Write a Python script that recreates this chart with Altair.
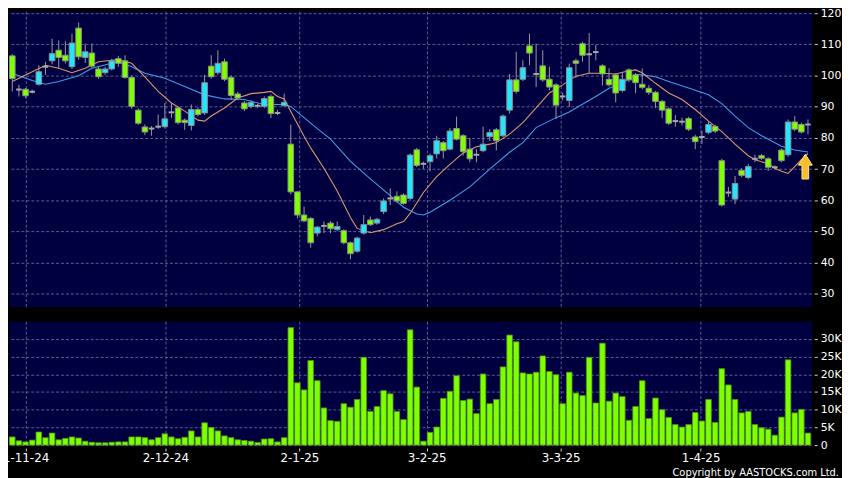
import altair as alt
import pandas as pd

# ---------------- data ----------------
opens = [106.3, 95.5, 95.6, 94.8, 97.2, 102.8, 104.7, 108.1, 106.5, 102.8,
         115.2, 105.8, 107.2, 102.1, 100.9, 102.1, 105.4, 104.7, 99.4, 88.9,
         83.5, 83.0, 83.6, 83.6, 88.2, 89.6, 85.7, 84.0, 89.1, 88.0,
         103.0, 100.9, 104.4, 99.4, 94.1, 91.2, 90.1, 90.3, 90.1, 93.3,
         88.0, 90.3, 78.0, 62.7, 55.3, 54.2, 49.5, 51.8, 52.7, 50.6,
         50.3, 46.4, 43.7, 49.5, 53.7, 52.7, 56.4, 60.6, 61.3, 61.7,
         60.6, 76.2, 71.7, 72.4, 74.9, 78.5, 76.4, 83.0, 80.7, 76.4,
         74.6, 75.9, 80.4, 82.6, 80.7, 88.9, 98.6, 98.8, 109.5, 100.5,
         103.1, 98.8, 97.0, 93.3, 92.0, 104.7, 110.2, 106.8, 107.5, 103.1,
         98.8, 100.2, 95.2, 101.8, 100.2, 97.2, 95.9, 94.6, 91.7, 89.3,
         85.4, 85.2, 86.2, 80.3, 80.3, 81.8, 83.7, 72.7, 62.5, 60.4,
         69.6, 67.3, 73.3, 74.3, 73.3, 70.6, 76.1, 74.6, 85.1, 84.3,
         84.3]
closes = [99.0, 95.5, 93.5, 94.8, 101.2, 102.8, 107.0, 105.8, 104.7, 110.4,
          106.0, 107.6, 103.0, 99.6, 102.1, 104.7, 103.9, 99.4, 90.1, 84.7,
          81.9, 83.0, 83.6, 86.1, 88.2, 84.9, 84.9, 89.1, 87.5, 97.7,
          99.6, 103.9, 98.8, 93.6, 92.8, 89.3, 91.4, 90.3, 92.6, 87.8,
          88.0, 91.4, 62.7, 55.3, 53.4, 46.4, 51.4, 51.8, 50.9, 51.6,
          46.4, 42.9, 47.9, 52.2, 52.2, 53.9, 59.8, 60.6, 59.8, 59.0,
          74.5, 71.2, 71.7, 74.3, 79.1, 75.9, 82.2, 79.6, 75.6, 73.3,
          74.6, 78.0, 81.7, 79.1, 87.0, 98.6, 94.9, 102.5, 107.2, 100.5,
          98.6, 96.3, 90.5, 93.3, 102.5, 103.9, 106.5, 106.8, 107.5, 100.5,
          97.0, 94.4, 98.8, 98.6, 97.7, 96.2, 94.6, 91.7, 88.9, 84.7,
          85.4, 85.2, 82.8, 78.8, 80.3, 84.3, 82.2, 58.5, 62.5, 65.4,
          68.0, 70.8, 73.3, 73.5, 70.6, 70.6, 72.7, 85.1, 82.8, 81.9,
          84.3]
highs = [106.8, 97.0, 96.0, 95.5, 103.3, 104.4, 111.8, 111.2, 111.0, 113.4,
         117.0, 110.2, 110.2, 102.8, 102.8, 105.4, 106.3, 106.5, 100.0, 89.5,
         84.3, 83.8, 87.5, 91.2, 91.2, 90.2, 86.2, 90.7, 89.8, 100.2,
         106.5, 108.1, 105.4, 100.0, 94.8, 91.8, 92.0, 91.0, 93.3, 93.9,
         89.0, 94.2, 84.3, 63.0, 58.0, 54.6, 51.8, 53.2, 53.4, 53.2,
         50.7, 46.8, 48.3, 55.3, 54.8, 54.4, 60.6, 63.8, 62.9, 62.2,
         75.0, 76.8, 72.4, 75.0, 80.7, 79.0, 83.2, 86.8, 81.2, 80.0,
         76.4, 83.6, 82.8, 83.2, 87.5, 100.5, 107.6, 104.9, 113.4, 110.2,
         108.1, 102.8, 97.5, 94.5, 103.8, 105.4, 110.8, 113.6, 109.8, 103.6,
         102.3, 100.8, 101.2, 102.3, 100.8, 102.3, 96.9, 95.1, 92.2, 89.8,
         87.3, 86.5, 86.8, 81.0, 82.4, 85.4, 84.2, 73.3, 64.3, 67.8,
         70.3, 71.7, 74.6, 74.8, 73.8, 71.2, 76.6, 85.9, 87.0, 84.9,
         85.9]
lows = [94.9, 93.3, 92.8, 94.2, 96.8, 100.2, 103.6, 102.3, 103.9, 102.0,
        105.0, 104.0, 102.5, 99.0, 100.2, 101.6, 102.8, 99.0, 89.3, 84.2,
        80.9, 80.7, 82.9, 83.0, 86.4, 84.3, 82.6, 82.4, 86.9, 87.4,
        99.0, 100.2, 98.2, 92.2, 92.2, 88.6, 89.5, 89.6, 89.6, 86.4,
        87.3, 90.1, 61.9, 54.2, 53.0, 44.8, 48.5, 49.5, 49.5, 50.2,
        45.9, 41.1, 43.2, 49.0, 51.8, 52.2, 55.6, 58.5, 59.2, 58.6,
        60.0, 70.6, 70.1, 69.3, 73.4, 73.4, 76.0, 79.2, 74.3, 72.2,
        72.2, 75.4, 79.0, 76.0, 80.2, 87.8, 94.2, 98.2, 103.3, 96.3,
        98.0, 95.2, 86.1, 92.0, 89.9, 99.2, 104.4, 100.7, 104.9, 96.8,
        96.5, 91.4, 94.6, 98.0, 94.4, 95.6, 93.8, 89.6, 86.4, 84.2,
        83.6, 84.0, 82.2, 76.4, 78.0, 81.2, 81.6, 58.0, 61.1, 58.8,
        67.4, 66.8, 72.2, 73.0, 69.4, 70.0, 72.2, 74.0, 82.2, 81.4,
        81.2]
volumes = [2300, 1200, 900, 1400, 3700, 2100, 3400, 1500, 1900, 2300,
           2000, 1100, 800, 650, 650, 800, 900, 900, 2300, 2300,
           2100, 1500, 2100, 3200, 2300, 1800, 2200, 4000, 2300, 6300,
           5000, 4000, 2600, 2100, 1500, 1300, 1100, 750, 1700, 1800,
           900, 2100, 33200, 17600, 15600, 23900, 18200, 10500, 6900, 6700,
           11700, 10700, 12900, 24800, 9500, 10900, 15400, 14500, 9500, 7200,
           32600, 16400, 1100, 3600, 5100, 13200, 15200, 19600, 12600, 13000,
           8900, 20100, 11700, 12900, 22100, 31100, 29200, 20400, 20100, 20600,
           25200, 20800, 19900, 11700, 20600, 14700, 14000, 24800, 11900, 28800,
           12400, 14700, 13700, 7000, 10900, 18200, 7500, 13300, 10000, 7800,
           5800, 5100, 5800, 9200, 6800, 12900, 6400, 21600, 17000, 12900,
           9100, 9500, 5800, 4900, 4500, 2800, 7900, 24100, 9100, 10100,
           3400]

# moving-average lines (index, value)
ma_short_idx = [0, 2, 5, 7, 9, 11, 13, 15, 16, 18, 20, 22, 24, 26, 28, 29, 30, 32, 34, 36,
                38, 39, 40, 41, 42, 44, 45, 47, 49, 51, 52, 54, 56, 58, 59, 60, 62, 64, 66, 68,
                70, 72, 73, 75, 77, 79, 81, 83, 85, 87, 89, 91, 93, 94, 95, 97, 99, 101, 103, 105,
                107, 109, 111, 112, 114, 115, 116, 117, 118, 119, 120]
ma_short_val = [98.1, 100.2, 103.3, 102.3, 100.9, 102.3, 104.4, 104.9, 105.1, 103.9,
                99.6, 94.9, 91.2, 88.6, 85.7, 85.4, 87.0, 89.6, 92.8, 94.2,
                94.6, 94.9, 93.3, 92.5, 88.5, 80.5, 76.8, 70.3, 63.0, 54.5,
                51.0, 49.6, 50.6, 52.5, 53.2, 55.8, 62.5, 67.6, 71.5, 75.2,
                77.2, 78.0, 78.5, 81.2, 84.9, 89.6, 94.4, 97.0, 99.8, 100.7,
                100.7, 100.5, 101.5, 101.8, 100.9, 97.5, 94.4, 92.3, 89.1, 85.4,
                82.0, 78.0, 74.3, 73.0, 71.7, 70.3, 69.3, 68.6, 70.8, 73.0,
                75.0]
ma_long_idx = [0, 1, 3, 5, 7, 10, 12, 15, 16, 18, 20, 23, 26, 29, 32, 35, 38, 41, 42, 44,
               46, 48, 51, 54, 57, 59, 61, 62, 63, 66, 69, 72, 75, 77, 79, 82, 84, 85, 88, 90,
               92, 94, 95, 97, 99, 102, 105, 107, 109, 111, 113, 116, 118, 120]
ma_long_val = [100.7, 99.9, 98.4, 97.2, 98.1, 99.9, 102.3, 103.9, 104.4, 102.8,
               100.7, 99.1, 96.5, 93.8, 92.5, 92.3, 90.7, 90.7, 90.1, 86.5,
               83.0, 79.6, 72.5, 66.9, 61.5, 57.8, 55.6, 55.3, 56.2, 60.0,
               64.3, 70.0, 75.4, 78.5, 83.3, 86.5, 88.3, 89.6, 93.3, 95.9,
               97.5, 100.3, 100.2, 99.6, 98.1, 96.0, 93.8, 91.0, 87.0, 83.3,
               80.7, 77.3, 76.1, 75.5]

tick_pos = [2.0, 23.1, 43.3, 62.5, 82.7, 103.8]
tick_labels = ['1-11-24', '2-12-24', '2-1-25', '3-2-25', '3-3-25', '1-4-25']
price_ticks = [30, 40, 50, 60, 70, 80, 90, 100, 110, 120]
vol_ticks = [0, 5000, 10000, 15000, 20000, 25000, 30000]
arrow_idx = [119.6]
arrow_price = [70.8]
copyright_text = ['Copyright by AASTOCKS.com Ltd.']

# ---------------- tables ----------------
n = len(opens)
kinds = ['flat' if o == c else ('up' if c > o else 'down') for o, c in zip(opens, closes)]
df = pd.DataFrame({'i': list(range(n)), 'open': opens, 'high': highs, 'low': lows,
                   'close': closes, 'volume': volumes, 'kind': kinds})
ma_s = pd.DataFrame({'i': ma_short_idx, 'v': ma_short_val})
ma_l = pd.DataFrame({'i': ma_long_idx, 'v': ma_long_val})
arrow_df = pd.DataFrame({'i': arrow_idx, 'p': arrow_price})
copy_df = pd.DataFrame({'t': copyright_text})

# ---------------- styling ----------------
W = 810
FONT = 'DejaVu Sans'
GRID = '#5c5c96'
LIME = '#7fff00'
CYAN = '#22e6ff'
ARROW = 'M0,-1 L0.56,-0.12 L0.27,-0.12 L0.27,1 L-0.27,1 L-0.27,-0.12 L-0.56,-0.12 Z'

xs = alt.Scale(domain=[-0.5, n - 0.5], nice=False, zero=False)
ys = alt.Scale(domain=[26, 120.6], nice=False, zero=False)
vs = alt.Scale(domain=[0, 35000], nice=False, zero=False)

label_expr = "[" + ",".join("'%s'" % t for t in tick_labels) + "][indexof([" + \
    ",".join(str(p) for p in tick_pos) + "], datum.value)]"

x_price_axis = alt.Axis(values=tick_pos, grid=True, gridColor=GRID, gridDash=[3, 2],
                        labels=False, ticks=False, domain=False, title=None)
y_price_axis = alt.Axis(orient='right', values=price_ticks, grid=True, gridColor=GRID,
                        gridDash=[3, 2], domain=False, ticks=True, tickColor='#d8d8d8',
                        tickSize=3, offset=3, labelPadding=3, labelColor='white',
                        labelFontSize=11, labelFont=FONT, title=None)
x_vol_axis = alt.Axis(values=tick_pos, labelExpr=label_expr, grid=True, gridColor=GRID,
                      gridDash=[3, 2], domain=False, ticks=True, tickColor='#d8d8d8',
                      tickSize=3, offset=3, labelPadding=2, labelColor='white',
                      labelFontSize=12, labelFont=FONT, title=None, labelFlush=False,
                      labelOverlap=False)
y_vol_axis = alt.Axis(orient='right', values=vol_ticks,
                      labelExpr="datum.value == 0 ? '0' : (datum.value / 1000) + 'K'",
                      grid=True, gridColor=GRID, gridDash=[3, 2], domain=False, ticks=True,
                      tickColor='#d8d8d8', tickSize=3, offset=3, labelPadding=3,
                      labelColor='white', labelFontSize=11, labelFont=FONT, title=None)


def px(field):
    return alt.X(field, type='quantitative', scale=xs, axis=x_price_axis)


def py(field):
    return alt.Y(field, type='quantitative', scale=ys, axis=y_price_axis)


line_long = alt.Chart(ma_l).mark_line(color='#3d9fe6', strokeWidth=1.1).encode(
    x=px('i'), y=py('v'))
line_short = alt.Chart(ma_s).mark_line(color='#e0956a', strokeWidth=1.1).encode(
    x=px('i'), y=py('v'))

wicks = alt.Chart(df).mark_rule(color='#9a9a9a', strokeWidth=1).encode(
    x=px('i'), y=py('low'), y2='high:Q')

bodies = alt.Chart(df).transform_filter("datum.kind != 'flat'").transform_calculate(
    x0='datum.i - 0.42', x1='datum.i + 0.42'
).mark_rect(stroke='#8e8e8e', strokeWidth=1).encode(
    x=px('x0'), x2='x1:Q', y=py('open'), y2='close:Q',
    fill=alt.Fill('kind:N', scale=alt.Scale(domain=['up', 'down'], range=[CYAN, LIME]),
                  legend=None))

dojis = alt.Chart(df).transform_filter("datum.kind == 'flat'").transform_calculate(
    x0='datum.i - 0.42', x1='datum.i + 0.42'
).mark_rule(color='#a8a8a8', strokeWidth=2).encode(
    x=px('x0'), x2='x1:Q', y=py('close'))

arrow = alt.Chart(arrow_df).mark_point(
    shape=ARROW, size=625, filled=True, fill='#f6bd2b', stroke='#ffe98a',
    strokeWidth=1, opacity=1
).encode(x=px('i'), y=py('p'))

price = alt.layer(line_long, line_short, wicks, bodies, dojis, arrow).properties(
    width=W, height=298)

vol_bars = alt.Chart(df).transform_calculate(
    x0='datum.i - 0.42', x1='datum.i + 0.42'
).mark_rect(fill=LIME, stroke='#4a9616', strokeWidth=0.8).encode(
    x=alt.X('x0:Q', scale=xs, axis=x_vol_axis), x2='x1:Q',
    y=alt.Y('volume:Q', scale=vs, axis=y_vol_axis), y2=alt.datum(0))

copyright_mark = alt.Chart(copy_df).mark_text(
    align='right', baseline='alphabetic', fontSize=10, font=FONT, color='white'
).encode(x=alt.value(838), y=alt.value(156), text='t:N')

volume = alt.layer(vol_bars, copyright_mark).properties(width=W, height=125)

chart = alt.vconcat(price, volume, spacing=13).properties(
    background='#000000',
    padding={'left': -7, 'top': -4, 'right': 0, 'bottom': 0}
).configure_view(fill='#000040', stroke='transparent')

chart.save('out.html', embed_options={'renderer': 'svg', 'actions': False})
